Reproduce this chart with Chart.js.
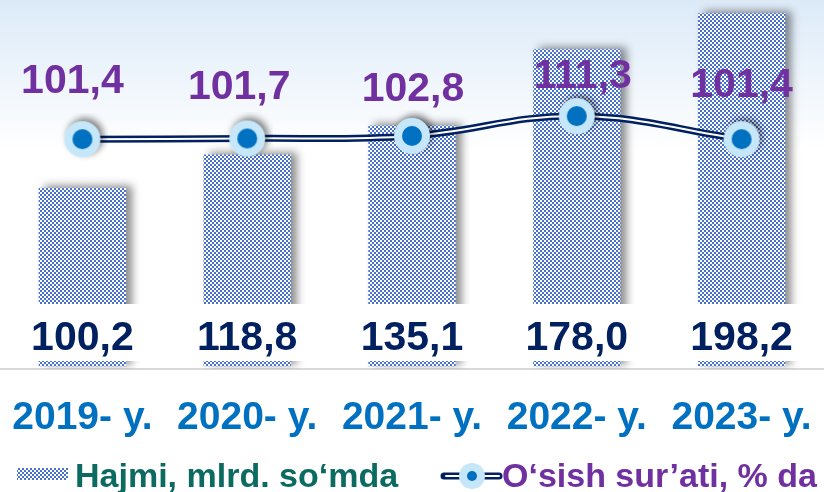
<!DOCTYPE html>
<html>
<head>
<meta charset="utf-8">
<script src="https://cdn.jsdelivr.net/npm/chart.js@4/dist/chart.umd.min.js"></script>
<style>
  html, body { margin: 0; padding: 0; background: #fff; }
  #wrap { width: 824px; height: 492px; }
</style>
</head>
<body>
<div id="wrap"><canvas id="chart" width="824" height="492"></canvas></div>
<script>
// Data
const years = ['2019- y.', '2020- y.', '2021- y.', '2022- y.', '2023- y.'];
const volume = [100.2, 118.8, 135.1, 178.0, 198.2];
const growth = [101.4, 101.7, 102.8, 111.3, 101.4];
const volumeName = 'Hajmi, mlrd. so\u2018mda';
const growthName = 'O\u2018sish sur\u2019ati, % da';

// Label nudges for the growth values (x, y above point)
const growthDx = [-10, -8, 1, 6, 0];
const growthLift = [46, 39, 35, 28, 42];

const FONT = 'Arial, "Liberation Sans", sans-serif';
const fmt = v => v.toFixed(1).replace('.', ',');

// Checker pattern for bars
function makePattern(ctx) {
    const tile = document.createElement('canvas');
    tile.width = 4;
    tile.height = 4;
    const t = tile.getContext('2d');
    t.fillStyle = '#4773CC';
    t.fillRect(0, 0, 4, 4);
    t.fillStyle = '#ffffff';
    t.fillRect(0, 0, 2, 2);
    t.fillRect(2, 2, 2, 2);
    return ctx.createPattern(tile, 'repeat');
}

// Marker image: pale ring with blue dot and a soft shadow
function makeMarker() {
    const m = document.createElement('canvas');
    m.width = 52;
    m.height = 52;
    const t = m.getContext('2d');
    t.save();
    t.shadowColor = 'rgba(0,0,0,0.5)';
    t.shadowBlur = 7;
    t.shadowOffsetX = 3;
    t.shadowOffsetY = -3;
    t.fillStyle = '#C6E7FA';
    t.beginPath();
    t.arc(26, 26, 18, 0, Math.PI * 2);
    t.fill();
    t.restore();
    t.fillStyle = '#0070C0';
    t.beginPath();
    t.arc(26, 26, 10, 0, Math.PI * 2);
    t.fill();
    return m;
}

const canvas = document.getElementById('chart');
const ctx = canvas.getContext('2d');
const barPattern = makePattern(ctx);
const marker = makeMarker();

// Soft blue background at the top
const backgroundPlugin = {
    id: 'background',
    beforeDraw(chart) {
        const c = chart.ctx;
        const g = c.createLinearGradient(0, 0, 0, 150);
        g.addColorStop(0, '#DCEAF8');
        g.addColorStop(1, '#FFFFFF');
        c.save();
        c.fillStyle = g;
        c.fillRect(0, 0, chart.width, chart.height);
        c.restore();
    }
};

// Shadow on the bars
const shadowPlugin = {
    id: 'shadows',
    beforeDatasetDraw(chart, args) {
        const c = chart.ctx;
        c.save();
        if (args.index === 0) {
            c.shadowColor = 'rgba(0,0,0,0.45)';
            c.shadowBlur = 8;
            c.shadowOffsetX = 6;
            c.shadowOffsetY = -2;
        }
    },
    afterDatasetDraw(chart) {
        chart.ctx.restore();
    }
};

// Value labels
const labelPlugin = {
    id: 'valueLabels',
    afterDatasetsDraw(chart) {
        const c = chart.ctx;
        const bars = chart.getDatasetMeta(0).data;
        const points = chart.getDatasetMeta(2).data;
        c.save();
        c.font = 'bold 41px ' + FONT;
        c.textAlign = 'center';
        c.textBaseline = 'alphabetic';

        bars.forEach((bar, i) => {
            c.fillStyle = '#ffffff';
            c.fillRect(bar.x - 62, 304, 124, 57);
            c.fillStyle = '#002060';
            c.fillText(fmt(volume[i]), bar.x, 350);
        });

        c.fillStyle = '#7030A0';
        points.forEach((pt, i) => {
            c.fillText(fmt(growth[i]), pt.x + growthDx[i], pt.y - growthLift[i]);
        });
        c.restore();
    }
};

// Legend along the bottom edge
const legendPlugin = {
    id: 'bottomLegend',
    afterDraw(chart) {
        const c = chart.ctx;
        c.save();
        c.fillStyle = barPattern;
        c.fillRect(17, 468, 51, 12);

        c.font = 'bold 34px ' + FONT;
        c.textBaseline = 'alphabetic';
        c.textAlign = 'left';
        c.fillStyle = '#0B6B60';
        c.fillText(volumeName, 75, 487);

        // double line symbol
        c.lineCap = 'round';
        c.strokeStyle = '#002060';
        c.lineWidth = 7;
        c.beginPath();
        c.moveTo(444, 476);
        c.lineTo(499, 476);
        c.stroke();
        c.strokeStyle = '#ffffff';
        c.lineWidth = 2;
        c.beginPath();
        c.moveTo(446, 476);
        c.lineTo(499, 476);
        c.stroke();
        c.fillStyle = '#C6E7FA';
        c.beginPath();
        c.arc(472, 476, 13, 0, Math.PI * 2);
        c.fill();
        c.fillStyle = '#0070C0';
        c.beginPath();
        c.arc(472, 476, 5, 0, Math.PI * 2);
        c.fill();

        c.fillStyle = '#7030A0';
        c.fillText(growthName, 502, 487);
        c.restore();
    }
};

new Chart(ctx, {
    data: {
        labels: years,
        datasets: [
            {
                type: 'bar',
                label: volumeName,
                data: volume,
                yAxisID: 'y',
                backgroundColor: barPattern,
                borderWidth: 0,
                barPercentage: 0.53,
                categoryPercentage: 1,
                order: 3
            },
            {
                type: 'line',
                label: growthName,
                data: growth,
                yAxisID: 'y2',
                borderColor: '#002060',
                borderWidth: 7,
                tension: 0.4,
                pointRadius: 0,
                fill: false,
                order: 2
            },
            {
                type: 'line',
                label: growthName,
                data: growth,
                yAxisID: 'y2',
                borderColor: '#ffffff',
                borderWidth: 2,
                tension: 0.4,
                pointStyle: marker,
                pointRadius: 18,
                fill: false,
                order: 1
            }
        ]
    },
    options: {
        responsive: false,
        animation: false,
        events: [],
        layout: {
            autoPadding: false,
            padding: { left: 0, right: 0, top: 0, bottom: 42 }
        },
        plugins: {
            legend: { display: false },
            tooltip: { enabled: false }
        },
        scales: {
            x: {
                grid: { display: false, drawTicks: true, tickLength: 18 },
                border: { display: true, color: '#D9D9D9', width: 2 },
                ticks: {
                    color: '#0070C0',
                    font: { family: FONT, size: 39, weight: 'bold' },
                    padding: 8,
                    maxRotation: 0,
                    autoSkip: false
                }
            },
            y: {
                display: false,
                min: -1.7,
                max: 205.6
            },
            y2: {
                display: false,
                position: 'right',
                min: 2.7,
                max: 161.1
            }
        }
    },
    plugins: [backgroundPlugin, shadowPlugin, labelPlugin, legendPlugin]
});
</script>
</body>
</html>
